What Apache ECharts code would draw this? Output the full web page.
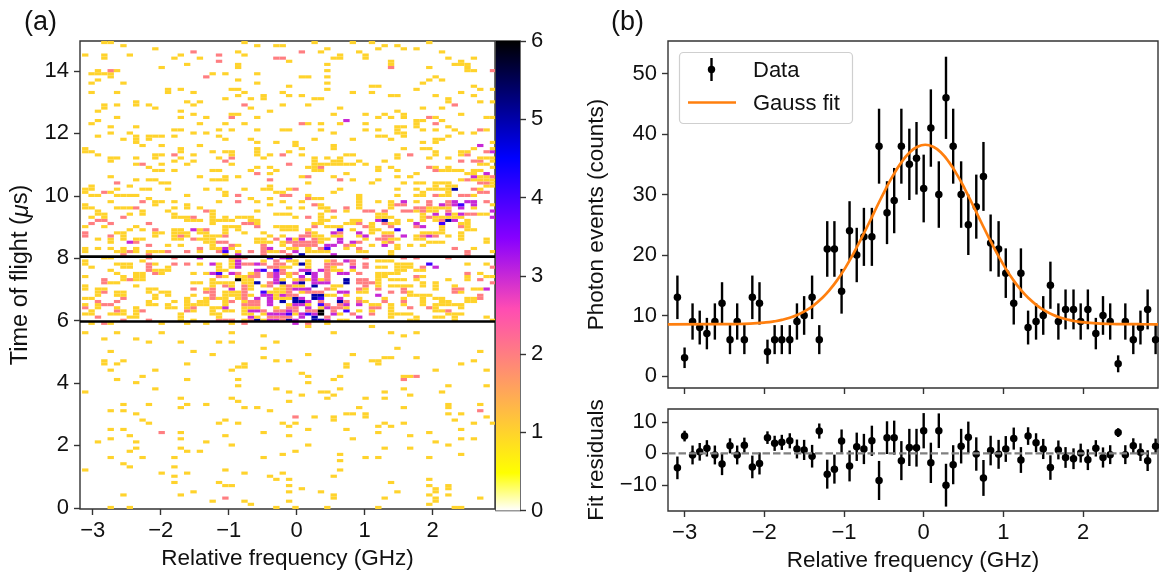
<!DOCTYPE html>
<html>
<head>
<meta charset="utf-8">
<title>Time of flight and photon events</title>
<script src="https://cdn.jsdelivr.net/npm/echarts@6/dist/echarts.min.js"></script>
<style>
  html, body { margin: 0; padding: 0; background: #fff; }
  #chart { width: 1159px; height: 575px; }
</style>
</head>
<body>
<div id="chart"></div>
<script>
// counts per cell, one string per time row from the bottom up: "col" means 1 count, "col:n" means n
const heatRows = [
  '4 7 30 33 38 46 58 59', '26 54', '20 25 32 55', '22:2 39 47 55 62', '6 15 39 54 57',
  '17 32 37 49 55', '34 55 57', '22 23 32 54 57', '14 21 48', '30 32 54',
  '14 29 39', '12 16 25 31', '0 22 40', '7 14', '6',
  '40', '4 9 14 28 44 46 54', '31 40 59', '7 16 18 33', '8 15 47 51',
  '23 35 57', '2 8 19 55', '4 15 42 59 61', '7 22 32 51', '12:2 15 28 46 54',
  '4 6 35 41 59', '32 46 48', '10 21 24 31 33 47 50 61 64', '9 22 39 58', '33:2 36 39 44 63',
  '8 41 42 44 57 59', '4 6 29 62:2', '15 25 27 43 50 57', '6 10 16 19 57 62', '24 32',
  '15 23 38 44 47', '34 39 51', '0 32 37 38 47 56', '11 30 40 50', '24 57 63',
  '8 35', '5 16 24 39 50:2', '9 35 40 50 51 52:2', '34', '4 11 23 55 63',
  '24 25 41', '3 5 16 25 41 46 59', '3 6 30 32 45 46 61', '28 47 48 52', '20 35 42',
  '4 17 62', '28 49', '', '10 15 21 23 30', '3 8',
  '28 50', '0 5 12 23 39 48 52', '', '35 45', '1 3:2 4 12 16 19 23 25:2 33:3 35:2 38',
  // row 60, just under the lower gate line
  '6:2 10:2 15 17 21:2 22:2 23:2 25 26:2 27:5 28 29:3 30:3 31:2 32:5 33:3 36:5 37:5 38:3 40 41 51 52 58 64',
  '2:2 7 8 15 21 26:3 27 29:2 30:2 31:2 32:2 34:3 36:5 38:2 43:3 48 52 55 56 58 63',
  '0 1 4 5 6 8 15 20 21 25 26 28 29:3 30:3 31:3 32:4 33 34:3 35:4 36:3 37:6 39:3 40 42:2 45:2 48 49 50 51 57 58 59',
  '1 5:2 6 8 9:2 16:2 17 20 22 23 25 26:3 27:3 28:2 30:2 31:2 32:3 33:2 35:2 36:2 37:6 39:2 41:4 43 45 48 55 56 57:2',
  '0:2 2 5 8 13 14 16 17:2 20 21 22:3 25 26 27 30 32:2 33:2 35:3 37 38:3 39:2 40:2 41 45:2 46:2 48 51:2 54:2 55 59',
  '0 2 3:2 4:2 10 11 13 16 17 18 19 22 25:2 26:2 27:2 29:3 32 33:3 34:3 35 37:4 38:2 40:2 41:3 43:3 45 46 48 50 53 55 56 57 58 59',
  '2:2 5:2 10 14 16 18 19 22 23:2 25 26:2 27:2 29:3 31:5 33:5 34:5 35:3 37:2 40:5 41:2 43:2 44 47:2 50:2 53 56 57 60 61',
  '0 1 6:2 11 16 19 20:2 21 22 24 25:2 27:3 29:3 30 31 32 33:5 34:3 36:5 37:4 40:3 43 47 50 53 55 56 60 61 62:2',
  '2 5 6 11 13 17 20:2 22 23 24 25:2 26 28:3 29:3 30 31:3 32:2 33:2 36:5 37:5 38 39 41 46:3 51 52 53 54 62:2',
  '2 3:2 5 6 10 12 13 19:2 20:2 22 23 24 25:2 28:4 29 30 31 32:2 34 35:2 36:2 37:2 40:3 41:3 43 44 48:2 50:2 51 58:2 59',
  '0 2 3 10 11 17:2 19 20:2 23:3 25:2 26 30 31 32:2 33:3 34:3 35:3 38:2 39 43:2 44 46:2 50:2 55 58:2 59:2 61 62 63:3',
  '0 8 20 22:2 23 25:2 26 28 29:2 31 32:2 33 34 36:5 39 40 44:2 46 48 49 50 51 53 55 58',
  '3:2 4 5 17 18 20 21 22 23 25 26 27:5 29:2 30:3 31:5 33:3 34:5 36:3 37:3 38:3 41:5 43:2 44:2 45:2 46 53 55 64:2',
  '3:2 6 7:2 8 9 20 24:6 25 26 30:3 31 33 34:2 35 36:3 37 38:2 41:5 43:2 44:2 46 48 49 50 52 57 60 62:2',
  '0 6 8 9 21:2 22 24 25 26:2 27:2 29:2 30:3 32 34:3 36:3 38:2 46 47 52:2 53 60 63 64',
  '5 8 9 11:2 12 17 19 20:3 21:4 23:3 24:2 26 27:2 29:2 30:3 31:2 32 33:2 35:5 36:3 38:2 40:3 41:3 43:2 46 47 48 49 60:2 62',
  '4 10:2 11 12 13 21 22 27:3 28:4 30:4 31:2 34:3 35:3 37:3 38:2 39 40 42 49 50 52 53',
  '1 6 7 10:2 13 21 23 24:3 29:2 30:2 31 32 35 38:2 39 42:3 44:2 46 47 49 50 51 53:2 55:3 64:2',
  '0 5 6 7 10:2 11 14:2 16:2 18 20:3 21 23 24:3 25:2 26:2 27:3 28:2 30:2 31:2 33 34:5 35 38:2 39:2 40:2 42:2 44:2 49 50 51 54:4 60 63',
  '0 9 23 24:3 28 30:2 32 33 35 38 39:2 41:3 42:2 46 47 48',
  // row 80, just under the upper gate line
  '3 4 10:2 14:2 18:3 23:2 24:2 25:2 29:4 31:3 32:4 44:2 50:2 52:2 57:2',
  '6:2 10:2 22 24:3 28:2 32:2 34:5 39:3 48 60:2',
  '0 5 6 7:2 8 10 11 12 13:2 16:2 18 21:2 22:4 24 26:2 28:2 29 30 31:2 33:3 35 36 37 38 43 44 48 60:2 64',
  '0 2 4 6 8 18:2 20 21 22:3 23 28:2 29:3 32 33 35 37:2 38:4 41 43:2 49 58:2 61',
  '10:2 13 15 20 23:2 24 28:2 31 33:2 34:2 35:2 36:2 38:3 39:3 41:2 42 45 47:3 49 51 53',
  '4 7:3 8:2 19 20 21:2 22:2 27 28 29 31 32:2 33:2 34:2 35:2 36:2 37 40:3 42:3 43:2 47 48:2 54 55 56 63',
  '2 4 6 8 9 14 15 17:2 18 19 20 27 28 30:2 32:3 33 34:3 36:2 37 38 40:3 44 46:2 47:2 48 49 52 53 59 63',
  '0:2 4:2 6 11 14 15:2 16 19 20 21 22:2 29 31 34:2 35:2 36 37 39 40 43 44:3 47:2 48:2 50:3 52 53:2 54:3 55:2 57 59',
  '0:2 5 6 11 12 14 15 16 18 19 22 25 28 35:2 36 39:3 40:2 43:3 45 47 48 53 54 55 56 59',
  '7 9 11:2 14 15 17:3 18 19:2 22 24 31 32 33 35 40:4 42 45 46 49:4 56 60 61',
  '0 3 8 22 23 24 27:2 30 31 32 33 36:2 38 39 40 44:2 45 48:2 52:2 53:3 56 59:2 60',
  '1:2 4:2 10:2 20 25:2 26:2 27 36 37 41 42 43:2 45 47:2 48 49 52:3 56:4 59 60',
  '2:2 3:2 16 17 18 20 21 22 23 26 27 37 38 42 43 46:3 47:5 49 51 53 55 56:2 57:5 58:3 60',
  '1 3 6:2 14 15 16 17:2 20 22 24 25 26 33 35:2 37 39 46 47 48 53 54:2 55 56 57 58 59 64:3',
  '2 3 7 9 14 20 30 31 32 37 46 47 53 55:3 57:3 58 59:3 60:2 61:2 62 63',
  '2 9 13 19:2 20 27 38 39:2 41 44:2 45:2 47:2 50:2 51:2 52 53:2 54 55 57:2 64:3',
  '0 1 5 6 7 8:2 14 16 18 32 34 37 38 41:2 43 48 52:2 53:2 54 55 56 57 59:3 61',
  '0 11 16 29 36:2 37 43 48 49:2 50:2 54:2 56:3 57:2 58:3 59:4 61:3 64',
  '4 9:2 11 12 14 21 24:2 27 31 34 43 46 48 50:3 52 54:2 57:2 58:3 60:3 61:3 63:2',
  '10 26 29 35:2 36 37 43',
  '1 2 5 6 7 8 16 22 24:2 31:2 32:2 35 43 49 52 53 55:2 56 57 59:2 60:2 61',
  '0 3:2 4 22 30 31 39 53 57 62:2 63:2',
  '0 1 5 9 10 13 19 21 25 28 29 32 33:2 40 49 52 54 55 56 57 58:5 61:2 62',
  '1 7 29 55 57 58 63 64',
  // row 104
  '5:2 12 13 35 45 50 52 53 55 56 57 62:2 63:2 64',
  '8 10 11 20 21 22 29:2 40:2 42 46 59 60:2 61 62 63 64',
  '4 18 22 24 34 35:2 39 49 51 61:3 62 63 64:2',
  '27:2 29 41 52 60 61 63:3',
  '11 12 14 20 21 26 30 36 37 46 49 55:2 56 57 58 59 61 62',
  '10 27 29 35 36 37:2 46 48 54:2 55 57 64',
  '8 9:2 12 16 23 32:2 36 37 38 39 40 41 42 44 62 63',
  '4 14 17 22:2 36 39 40 43 47 59:2 61:2 62:2 64',
  '4 5 8 11 15 21 23:2 28 36 38 40 49 54 57 62 63 64',
  '2 11 12 14:2 17 23 27 29 31:2 34 41 42 49 51:2 55 59 60:2',
  '0 1 15 20 22 23 27 32 55 59 60 63:2 64:3',
  '0 15 27 34 39 50 53 54 61 64',
  '9 12 18 33 39 62:3',
  '8 27 30 33 53 55 64',
  '6 8 10 22 26 36 42 48 55 56',
  '2 8 10 11 12 14 21 46 47 50 57',
  '4 7 17 19 39 49 50 59 61',
  '14 15 21 23 27 31 32 37 44 46 49 53 55 58 62:2 63',
  '4 8 49 50 52 57',
  '1 18 22 25 34:2 35 37 40 44 52 55:2',
  '2 41:3 52 53 56',
  '5 15 19 23:2 27 46 48 50 54:2 55 63 64',
  '17 23 24 39 44 47 50 59',
  '2 15 29 49',
  '3 11 26 40 53 56',
  '3 5 8 10 17 25:2 31 35 58:2',
  '8 16 18 57 62 64',
  '22 26 28 36 37 57',
  '24 28 32 34 48 49 55 61',
  '1 5 13 17 25 31 42 45 59',
  '13 15 23 24 38 52 62 64',
  '32 45 46 61',
  '1 6 27 38 53',
  '2 24 54 56',
  '4 19:2 34 35 38 55',
  '1 2 3 4 20 22 27',
  '2 4:2 5 38 60 61 64:2',
  '12 24 48:2 54 60',
  '16 24 38 48 58 59 60',
  '21:2 32 48 59',
  '3 14 18 30:2 31:2 39 40 44 57 61',
  '0 3 7 15 21:2 25 40 44',
  '17:2 24 34:2 37 43 56',
  '11 38 46 50 52',
  '6 27 30 31 47 49',
  '3 4 25 36 42 45 54'
];

// photon events per frequency bin
const freq = [-3.09, -3.00, -2.90, -2.81, -2.72, -2.62, -2.53, -2.43, -2.34, -2.25, -2.15, -2.06, -1.96,
  -1.87, -1.78, -1.68, -1.59, -1.50, -1.40, -1.31, -1.21, -1.12, -1.03, -0.93, -0.84, -0.75, -0.65,
  -0.56, -0.46, -0.37, -0.28, -0.18, -0.09, 0.00, 0.09, 0.19, 0.28, 0.37, 0.47, 0.56, 0.66, 0.75,
  0.84, 0.94, 1.03, 1.13, 1.22, 1.31, 1.41, 1.50, 1.59, 1.69, 1.78, 1.88, 1.97, 2.06, 2.16, 2.25,
  2.34, 2.44, 2.53, 2.63, 2.72, 2.81, 2.91];
const counts = [13, 3, 9, 8, 7, 9, 12, 6, 9, 6, 13, 12, 4, 6, 6, 6, 9, 10, 13, 6, 21, 21, 14, 24, 20, 23, 23,
  38, 27, 29, 38, 35, 36, 31, 41, 30, 46, 38, 30, 25, 28, 33, 22, 21, 17, 12, 17, 8, 9, 10, 15, 9,
  11, 11, 9, 11, 7, 10, 9, 2, 9, 6, 8, 11, 6];
const errors = [3.6, 1.7, 3, 2.8, 2.6, 3, 3.5, 2.4, 3, 2.4, 3.6, 3.5, 2, 2.4, 2.4, 2.4, 3, 3.2, 3.6, 2.4, 4.6, 4.6,
  3.7, 4.9, 4.5, 4.8, 4.8, 6.2, 5.2, 5.4, 6.2, 5.9, 6, 5.6, 6.4, 5.5, 6.8, 6.2, 5.5, 5, 5.3, 5.7, 4.7,
  4.6, 4.1, 3.5, 4.1, 2.8, 3, 3.2, 3.9, 3, 3.3, 3.3, 3, 3.3, 2.6, 3.2, 3, 1.4, 3, 2.4, 2.8, 3.3, 2.4];
const residuals = [-4.6, 5.5, -0.5, 0.5, 1.6, -0.5, -3.4, 2.4, -0.5, 2.6, -4.3, -3.2, 5, 3.2, 3.5, 4, 1.4, 1.1,
  -0.9, 7.1, -6.6, -5, 3.9, -4, 2.1, 1.4, 4, -8.6, 5, 5, -2.3, 1.9, 1.8, 7.2, -3, 7.2, -10.1, -3.6, 2.3,
  5.1, -0.2, -7.8, 0.9, -0.3, 1.4, 4.7, -2.1, 5.5, 3.4, 1.4, -4.5, 1.1, -1.3, -1.7, 0.1, -2, 1.6, -1.3,
  -0.4, 6.6, -0.4, 2.4, 0.4, -2.3, 2.3];

// gauss fit curve
const fitFreq = [-3.21, -2.68, -2.38, -2.18, -1.98, -1.88, -1.78, -1.68, -1.58, -1.48, -1.38, -1.28, -1.18, -1.08,
  -0.98, -0.88, -0.78, -0.68, -0.58, -0.48, -0.38, -0.28, -0.18, -0.08, 0.02, 0.12, 0.22, 0.32, 0.42, 0.52,
  0.62, 0.72, 0.82, 0.92, 1.02, 1.12, 1.22, 1.32, 1.42, 1.52, 1.62, 1.72, 1.82, 1.92, 2.02, 2.22, 2.42, 2.72, 2.94];
const fitCounts = [8.54, 8.55, 8.58, 8.65, 8.84, 9.01, 9.26, 9.62, 10.11, 10.79, 11.67, 12.81, 14.23, 15.94,
  17.96, 20.26, 22.79, 25.46, 28.19, 30.83, 33.26, 35.32, 36.91, 37.9, 38.24, 37.9, 36.91, 35.32, 33.26, 30.83,
  28.19, 25.46, 22.79, 20.26, 17.96, 15.94, 14.23, 12.81, 11.67, 10.79, 10.11, 9.62, 9.26, 9.01, 8.84, 8.65, 8.58, 8.55, 8.54];

const gateTimes = [5.97, 8.05];
const timeTicks = [0, 2, 4, 6, 8, 10, 12, 14];
const freqTicks = [-3, -2, -1, 0, 1, 2];
const colorTicks = [0, 1, 2, 3, 4, 5, 6];
const countTicks = [0, 10, 20, 30, 40, 50];
const residualTicks = [-10, 0, 10];

// gnuplot2_r look up, one colour for each whole count
const countColors = ['#ffffff', '#ffd32c', '#ff7e81', '#c729d6', '#4200ff', '#0000aa', '#000000'];
const colorStops = [
  { offset: 0, color: '#ffffff' },
  { offset: 0.08, color: '#ffff00' },
  { offset: 0.43, color: '#ff4cb3' },
  { offset: 0.58, color: '#8700ff' },
  { offset: 0.75, color: '#0000ff' },
  { offset: 1, color: '#000000' }
];

const freqBin = 0.0937;
const freqStart = -3.157;
const timeBin = 0.1;
const timeStart = -0.04;

// sparse rows -> [x0, y0, x1, y1, count]
const heatCells = [];
heatRows.forEach(function (row, r) {
  row.split(' ').filter(Boolean).forEach(function (cell) {
    const parts = cell.split(':');
    const c = +parts[0];
    const n = parts.length > 1 ? +parts[1] : 1;
    const x0 = freqStart + c * freqBin;
    const y0 = timeStart + r * timeBin;
    heatCells.push([x0, y0, x0 + freqBin, y0 + timeBin, n]);
  });
});

const fontFamily = '"Liberation Sans", Arial, sans-serif';
const spine = '#333';
const minusLabel = function (v) { return String(v).replace('-', '\u2212'); };

function makeAxis(extra) {
  return Object.assign({
    type: 'value',
    splitLine: { show: false },
    axisLine: { show: false, onZero: false },
    axisTick: { show: true, length: 6, lineStyle: { color: spine, width: 1.4 } },
    axisLabel: { color: '#111', fontSize: 22, fontFamily: fontFamily, margin: 11, formatter: minusLabel },
    nameTextStyle: { color: '#111', fontSize: 22.5, fontFamily: fontFamily },
    nameLocation: 'middle'
  }, extra);
}

function withTicks(axis, ticks) {
  axis.axisTick.customValues = ticks;
  axis.axisLabel.customValues = ticks;
  return axis;
}

function renderRect(params, api) {
  const a = api.coord([api.value(0), api.value(3)]);
  const b = api.coord([api.value(2), api.value(1)]);
  return {
    type: 'rect',
    shape: { x: a[0], y: a[1], width: b[0] - a[0], height: b[1] - a[1] },
    style: { fill: countColors[api.value(4)] }
  };
}

function renderErrorBar(params, api) {
  const top = api.coord([api.value(0), api.value(1) + api.value(2)]);
  const bottom = api.coord([api.value(0), api.value(1) - api.value(2)]);
  return {
    type: 'line',
    shape: { x1: top[0], y1: top[1], x2: bottom[0], y2: bottom[1] },
    style: { stroke: '#000', lineWidth: 2.4 }
  };
}

const grids = [
  { left: 80, top: 41, width: 415, height: 469.5 },
  { left: 496, top: 41, width: 24, height: 469.5 },
  { left: 668, top: 41, width: 490, height: 347 },
  { left: 668, top: 409, width: 490, height: 102 }
];
grids.forEach(function (g) {
  g.show = true;
  g.borderColor = spine;
  g.borderWidth = 1.4;
  g.backgroundColor = '#fff';
});

const xAxes = [
  withTicks(makeAxis({
    gridIndex: 0, min: -3.187, max: 2.916,
    name: 'Relative frequency (GHz)', nameGap: 38
  }), freqTicks),
  { type: 'value', gridIndex: 1, min: 0, max: 1, show: false },
  withTicks(makeAxis({ gridIndex: 2, min: -3.208, max: 2.94 }), freqTicks),
  withTicks(makeAxis({
    gridIndex: 3, min: -3.208, max: 2.94,
    name: 'Relative frequency (GHz)', nameGap: 38
  }), freqTicks)
];
xAxes[2].axisLabel.show = false;

const yAxes = [
  withTicks(makeAxis({
    gridIndex: 0, min: -0.04, max: 14.96,
    name: 'Time of flight ({i|\u03bc}s)', nameGap: 47,
    nameTextStyle: {
      color: '#111', fontSize: 23.5, fontFamily: fontFamily,
      rich: { i: { fontStyle: 'italic', fontSize: 23.5, fontFamily: fontFamily, color: '#111' } }
    }
  }), timeTicks),
  withTicks(makeAxis({ gridIndex: 1, min: 0, max: 6, position: 'right' }), colorTicks),
  withTicks(makeAxis({
    gridIndex: 2, min: -2, max: 55.4,
    name: 'Photon events (counts)', nameGap: 60
  }), countTicks),
  withTicks(makeAxis({
    gridIndex: 3, min: -18.3, max: 14.1,
    name: 'Fit residuals', nameGap: 60
  }), residualTicks)
];

const myChart = echarts.init(document.getElementById('chart'), null, { renderer: 'canvas' });

myChart.setOption({
  animation: false,
  backgroundColor: '#fff',
  textStyle: { fontFamily: fontFamily },
  title: [
    { text: '(a)', left: 24, top: 9, padding: 0, textStyle: { color: '#111', fontSize: 27, fontWeight: 'normal', fontFamily: fontFamily } },
    { text: '(b)', left: 611, top: 9, padding: 0, textStyle: { color: '#111', fontSize: 27, fontWeight: 'normal', fontFamily: fontFamily } }
  ],
  grid: grids,
  xAxis: xAxes,
  yAxis: yAxes,
  series: [
    {
      name: 'Counts',
      type: 'custom',
      xAxisIndex: 0,
      yAxisIndex: 0,
      clip: true,
      renderItem: renderRect,
      encode: { x: [0, 2], y: [1, 3] },
      data: heatCells
    },
    {
      name: 'Gate low',
      type: 'line',
      xAxisIndex: 0,
      yAxisIndex: 0,
      symbol: 'none',
      lineStyle: { color: '#000', width: 2.6 },
      data: [[-3.187, gateTimes[0]], [2.916, gateTimes[0]]]
    },
    {
      name: 'Gate high',
      type: 'line',
      xAxisIndex: 0,
      yAxisIndex: 0,
      symbol: 'none',
      lineStyle: { color: '#000', width: 2.6 },
      data: [[-3.187, gateTimes[1]], [2.916, gateTimes[1]]]
    },
    {
      name: 'Colorbar',
      type: 'custom',
      xAxisIndex: 1,
      yAxisIndex: 1,
      renderItem: function (params, api) {
        const a = api.coord([0, 6]);
        const b = api.coord([1, 0]);
        return {
          type: 'rect',
          shape: { x: a[0], y: a[1], width: b[0] - a[0], height: b[1] - a[1] },
          style: { fill: new echarts.graphic.LinearGradient(0, 1, 0, 0, colorStops) }
        };
      },
      data: [[0, 0]]
    },
    {
      name: 'Data errors',
      type: 'custom',
      xAxisIndex: 2,
      yAxisIndex: 2,
      renderItem: renderErrorBar,
      encode: { x: 0, y: 1 },
      data: freq.map(function (f, i) { return [f, counts[i], errors[i]]; })
    },
    {
      name: 'Data',
      type: 'scatter',
      xAxisIndex: 2,
      yAxisIndex: 2,
      symbolSize: 7.5,
      itemStyle: { color: '#000', opacity: 1 },
      data: freq.map(function (f, i) { return [f, counts[i]]; })
    },
    {
      name: 'Gauss fit',
      type: 'line',
      xAxisIndex: 2,
      yAxisIndex: 2,
      symbol: 'none',
      smooth: true,
      z: 5,
      lineStyle: { color: '#ff7f0e', width: 2.7 },
      data: fitFreq.map(function (f, i) { return [f, fitCounts[i]]; })
    },
    {
      name: 'Zero',
      type: 'line',
      xAxisIndex: 3,
      yAxisIndex: 3,
      symbol: 'none',
      lineStyle: { color: '#808080', width: 2.2, type: [7.5, 3] },
      data: [[-3.208, 0], [2.94, 0]]
    },
    {
      name: 'Residual errors',
      type: 'custom',
      xAxisIndex: 3,
      yAxisIndex: 3,
      renderItem: renderErrorBar,
      encode: { x: 0, y: 1 },
      data: freq.map(function (f, i) { return [f, residuals[i], errors[i]]; })
    },
    {
      name: 'Residuals',
      type: 'scatter',
      xAxisIndex: 3,
      yAxisIndex: 3,
      symbolSize: 7.5,
      itemStyle: { color: '#000', opacity: 1 },
      data: freq.map(function (f, i) { return [f, residuals[i]]; })
    }
  ],
  // legend box of panel (b)
  graphic: [
    { type: 'rect', z: 100, shape: { x: 679.5, y: 52.5, width: 173, height: 71, r: 4 }, style: { fill: 'rgba(255,255,255,0.9)', stroke: '#cfcfcf', lineWidth: 1.2 } },
    { type: 'line', z: 101, shape: { x1: 711.5, y1: 58, x2: 711.5, y2: 81 }, style: { stroke: '#000', lineWidth: 2.4 } },
    { type: 'circle', z: 101, shape: { cx: 711.5, cy: 69.5, r: 3.7 }, style: { fill: '#000' } },
    { type: 'line', z: 101, shape: { x1: 688, y1: 102.5, x2: 736, y2: 102.5 }, style: { stroke: '#ff7f0e', lineWidth: 2.7 } },
    { type: 'text', z: 101, left: 753, top: 60, style: { text: 'Data', fill: '#111', fontSize: 22, fontFamily: fontFamily } },
    { type: 'text', z: 101, left: 753, top: 93, style: { text: 'Gauss fit', fill: '#111', fontSize: 22, fontFamily: fontFamily } }
  ]
});
</script>
</body>
</html>
